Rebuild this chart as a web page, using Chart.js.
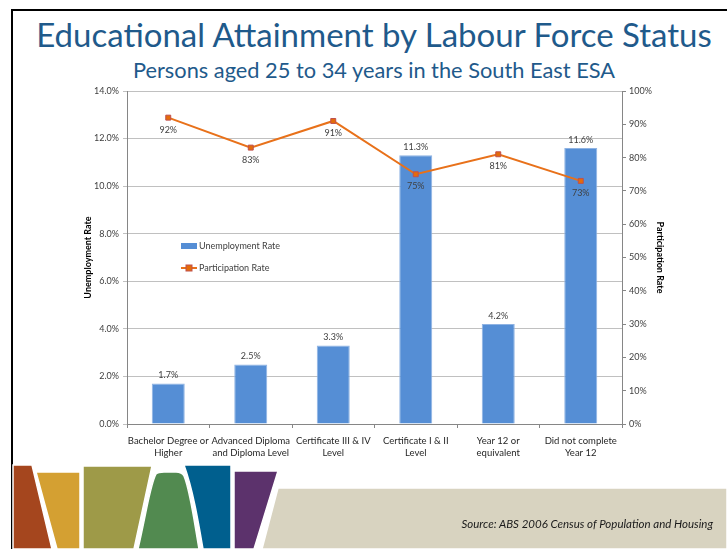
<!DOCTYPE html>
<html>
<head>
<meta charset="utf-8">
<script src="https://cdn.jsdelivr.net/npm/chart.js@4"></script>
<style>
  html, body { margin: 0; padding: 0; background: #fff; }
  #slide { position: relative; width: 727px; height: 549px; overflow: hidden; font-family: Lato, "Open Sans", sans-serif; }
  #deco { position: absolute; left: 0; top: 0; }
  #chartBox { position: absolute; left: 0; top: 0; width: 727px; height: 549px; }
  .title { position: absolute; left: 13px; width: 722px; text-align: center; color: #1f5a8b; white-space: nowrap; }
  #t1 { top: 14px; font-size: 33px; }
  #t2 { top: 56px; font-size: 21.8px; }
  #source { position: absolute; right: 14px; top: 517px; font-size: 11.5px; font-style: italic; color: #1a1a1a; }
</style>
</head>
<body>
<div id="slide">
  <svg id="deco" width="727" height="549">
    <!-- slide frame -->
    <rect x="11" y="9" width="716" height="2" fill="#000"/>
    <rect x="11" y="9" width="2" height="540" fill="#000"/>
    <!-- footer band -->
    <g stroke="#fff" stroke-width="1.5">
      <polygon points="278,488 727,488 727,549 262,549" fill="#d8d3c0"/>
      <polygon points="13,465 32,465 52,549 13,549" fill="#a5461e"/>
      <polygon points="36,472 80,472 80,549 57,549" fill="#d4a032"/>
      <polygon points="83,466 152,466 134,549 83,549" fill="#9e9a48"/>
      <path d="M138,549 C146,515 150,485 156,474 Q158,472 164,472 L176,472 Q182,472 184,476 C190,490 194,520 199,549 Z" fill="#528a50"/>
      <path d="M184,465 L231,465 L231,549 L203,549 C198,520 193,490 184,465 Z" fill="#005f8e"/>
      <polygon points="234,471 278,471 254,549 234,549" fill="#5c326c"/>
    </g>
  </svg>
  <div class="title" id="t1">Educational Attainment by Labour Force Status</div>
  <div class="title" id="t2">Persons aged 25 to 34 years in the South East ESA</div>
  <div id="chartBox"><canvas id="eduChart" width="727" height="549"></canvas></div>
  <div id="source">Source: ABS 2006 Census of Population and Housing</div>
</div>
<script>
const categories = [
  ['Bachelor Degree or', 'Higher'],
  ['Advanced Diploma', 'and Diploma Level'],
  ['Certificate III & IV', 'Level'],
  ['Certificate I & II', 'Level'],
  ['Year 12 or', 'equivalent'],
  ['Did not complete', 'Year 12']
];
const unemploymentRate = [1.7, 2.5, 3.3, 11.3, 4.2, 11.6];   // %
const participationRate = [92, 83, 91, 75, 81, 73];        // %

const FONT = 'Lato, "Open Sans", sans-serif';
const TEXT = '#404040';
const BAR_BLUE = '#558ed5';
const LINE_ORANGE = '#e8711a';

// value labels: bars above, line points below
const valueLabels = {
  id: 'valueLabels',
  afterDatasetsDraw(chart) {
    const ctx = chart.ctx;
    ctx.save();
    ctx.font = '9px ' + FONT;
    ctx.fillStyle = TEXT;
    ctx.textAlign = 'center';
    ctx.textBaseline = 'middle';
    chart.data.datasets.forEach((ds, i) => {
      const meta = chart.getDatasetMeta(i);
      meta.data.forEach((el, j) => {
        if (ds.type === 'bar') {
          ctx.fillText(ds.data[j].toFixed(1) + '%', el.x, el.y - 8);
        } else {
          ctx.fillText(ds.data[j] + '%', el.x, el.y + 12);
        }
      });
    });
    ctx.restore();
  }
};

// legend drawn inside the plot area
const innerLegend = {
  id: 'innerLegend',
  afterDraw(chart) {
    const ctx = chart.ctx;
    const x = chart.chartArea.left + 54;
    const y1 = 246, y2 = 268;
    ctx.save();
    ctx.fillStyle = BAR_BLUE;
    ctx.fillRect(x, y1 - 3, 16, 6);
    ctx.strokeStyle = LINE_ORANGE;
    ctx.lineWidth = 2;
    ctx.beginPath();
    ctx.moveTo(x, y2);
    ctx.lineTo(x + 16, y2);
    ctx.stroke();
    ctx.fillStyle = '#e46c0a';
    ctx.strokeStyle = '#c0504d';
    ctx.lineWidth = 1;
    ctx.fillRect(x + 5, y2 - 3, 6, 6);
    ctx.strokeRect(x + 5, y2 - 3, 6, 6);
    ctx.font = '9px ' + FONT;
    ctx.fillStyle = TEXT;
    ctx.textBaseline = 'middle';
    ctx.fillText('Unemployment Rate', x + 18, y1);
    ctx.fillText('Participation Rate', x + 18, y2);
    ctx.restore();
  }
};

new Chart(document.getElementById('eduChart'), {
  data: {
    labels: categories,
    datasets: [{
      type: 'line',
      label: 'Participation Rate',
      data: participationRate,
      yAxisID: 'y1',
      borderColor: LINE_ORANGE,
      borderWidth: 2,
      pointStyle: 'rect',
      pointRadius: 3.5,
      pointBackgroundColor: '#e46c0a',
      pointBorderColor: '#c0504d',
      pointBorderWidth: 1,
      tension: 0
    }, {
      type: 'bar',
      label: 'Unemployment Rate',
      data: unemploymentRate,
      yAxisID: 'y',
      backgroundColor: BAR_BLUE,
      borderColor: '#8fb3e3',
      borderWidth: 1,
      categoryPercentage: 1,
      barPercentage: 0.4
    }]
  },
  options: {
    responsive: false,
    animation: false,
    layout: { padding: { left: 79, right: 58, top: 91, bottom: 85 } },
    plugins: { legend: { display: false }, tooltip: { enabled: false } },
    scales: {
      x: {
        afterFit: s => { s.height = 40; },
        grid: { offset: true, drawOnChartArea: false, tickLength: 4, color: '#868686' },
        border: { color: '#868686' },
        ticks: { font: { family: FONT, size: 9.5, lineHeight: 1.25 }, color: '#262626', padding: 7, maxRotation: 0, autoSkip: false }
      },
      y: {
        position: 'left',
        min: 0, max: 14,
        afterFit: s => { s.width = 48; },
        grid: { color: '#c0c0c0', tickLength: 4 },
        border: { color: '#868686' },
        ticks: { stepSize: 2, font: { family: FONT, size: 9 }, color: TEXT, padding: 4,
          callback: v => v.toFixed(1) + '%' },
        title: { display: true, text: 'Unemployment Rate', font: { family: FONT, size: 9, weight: 'bold' }, color: '#000' }
      },
      y1: {
        position: 'right',
        min: 0, max: 100,
        afterFit: s => { s.width = 47; },
        grid: { drawOnChartArea: false, tickLength: 4, color: '#868686' },
        border: { color: '#868686' },
        ticks: { stepSize: 10, font: { family: FONT, size: 9 }, color: TEXT, padding: 3,
          callback: v => v + '%' },
        title: { display: true, text: 'Participation Rate', font: { family: FONT, size: 9, weight: 'bold' }, color: '#000' }
      }
    }
  },
  plugins: [valueLabels, innerLegend]
});
</script>
</body>
</html>
